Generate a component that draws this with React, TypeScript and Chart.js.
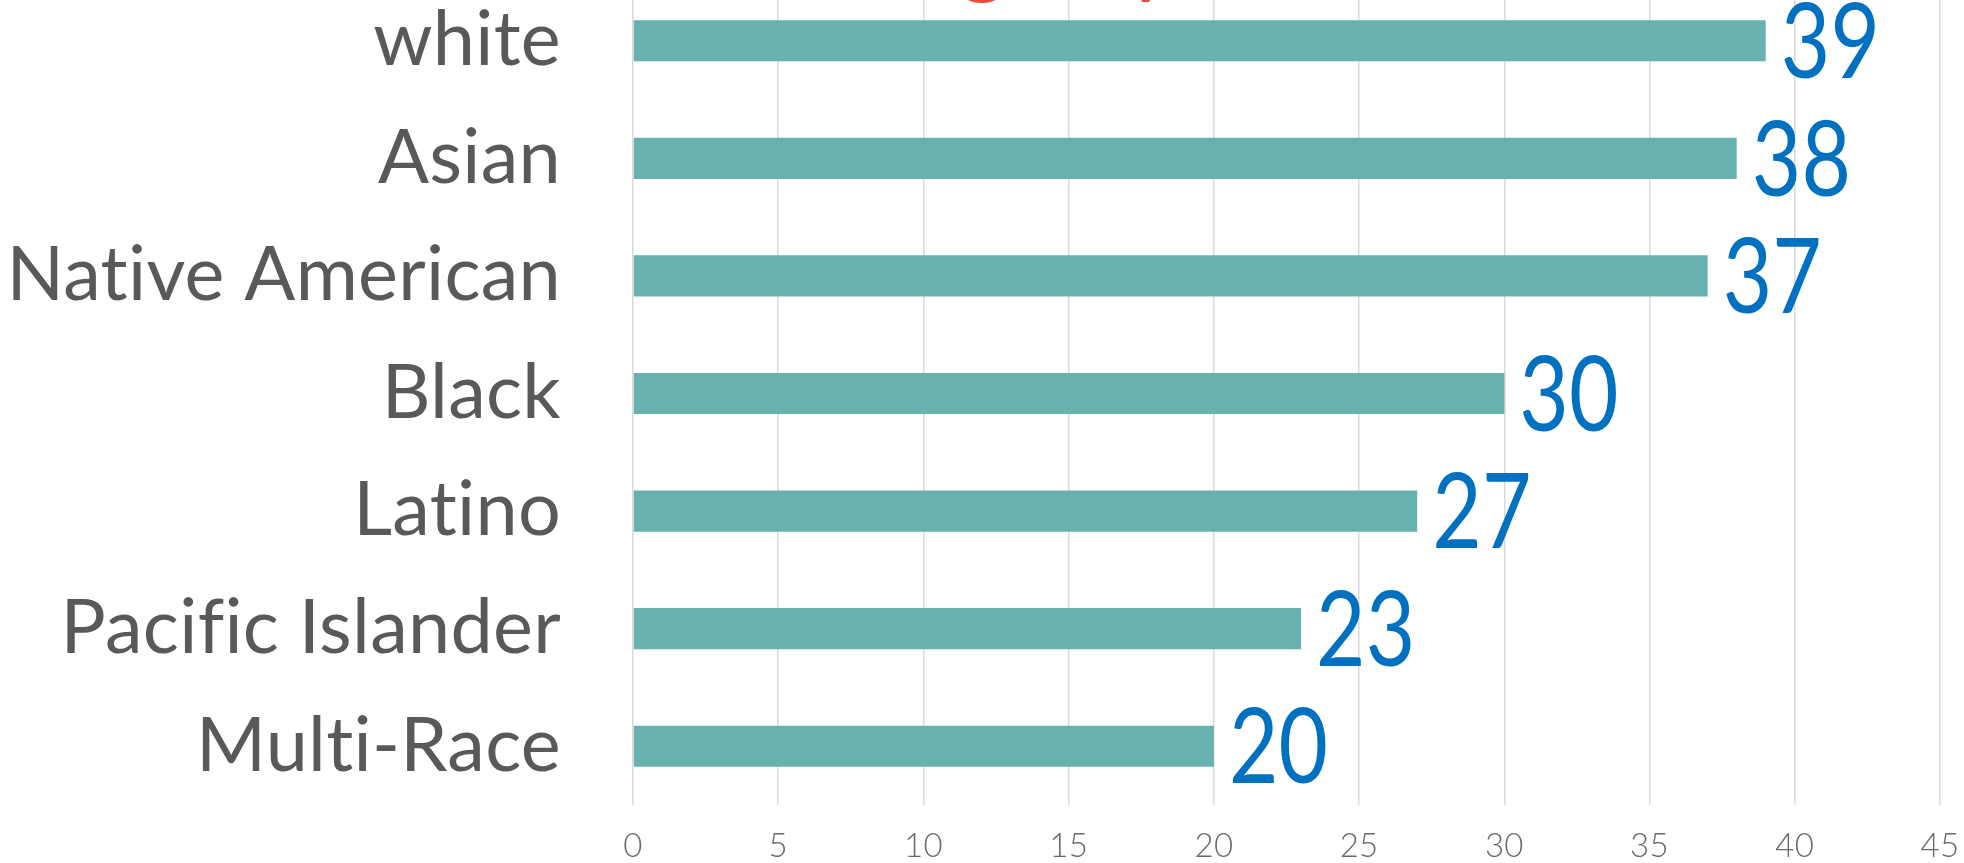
import React, { useEffect, useRef } from "react";
import { Chart, registerables } from "chart.js";

Chart.register(...registerables);

const categories = [
  "white",
  "Asian",
  "Native American",
  "Black",
  "Latino",
  "Pacific Islander",
  "Multi-Race",
];
const medianAges = [39, 38, 37, 30, 27, 23, 20];
const xMin = 0;
const xMax = 45;
const xStep = 5;
const titleText = "Median Age by Race";

const OFFSET = 150;
const W = 1964;
const H = 863 + OFFSET;

const FONT = "Lato, 'Open Sans', sans-serif";
const VALUE_SIZE = 104;

const noLigatures = {
  id: "noLigatures",
  beforeUpdate(chart: any) {
    chart.ctx.letterSpacing = "0.3px";
  },
  beforeLayout(chart: any) {
    chart.ctx.letterSpacing = "0.3px";
  },
  beforeDraw(chart: any) {
    chart.ctx.letterSpacing = "0.3px";
  },
};

const valueLabels = {
  id: "valueLabels",
  afterDatasetsDraw(chart: any) {
    const ctx = chart.ctx;
    const meta = chart.getDatasetMeta(0);
    meta.data.forEach((bar: any, i: number) => {
      ctx.save();
      ctx.font = `400 ${VALUE_SIZE}px ${FONT}`;
      ctx.fillStyle = "#0070C0";
      ctx.textAlign = "left";
      ctx.textBaseline = "alphabetic";
      ctx.translate(bar.x + 15, bar.y + VALUE_SIZE * 0.358);
      ctx.scale(0.82, 1);
      ctx.fillText(String(medianAges[i]), 0, 0);
      ctx.restore();
    });
  },
};

const cutTitle = {
  id: "cutTitle",
  afterDraw(chart: any) {
    const ctx = chart.ctx;
    ctx.save();
    ctx.font = `400 92px ${FONT}`;
    ctx.fillStyle = "#E84C3D";
    ctx.textAlign = "center";
    ctx.textBaseline = "alphabetic";
    ctx.fillText(titleText, chart.width / 2, chart.chartArea.top + 4);
    ctx.restore();
  },
};

export default function App() {
  const ref = useRef<HTMLCanvasElement | null>(null);

  useEffect(() => {
    document.body.style.overflow = "hidden";
    const canvas = ref.current;
    if (!canvas) return;
    const chart = new Chart(canvas, {
      type: "bar",
      data: {
        labels: categories,
        datasets: [
          {
            data: medianAges,
            backgroundColor: "#67B2AF",
            borderWidth: 0,
            barPercentage: 0.35,
            categoryPercentage: 1,
          },
        ],
      },
      options: {
        indexAxis: "y",
        responsive: false,
        animation: false,
        devicePixelRatio: 1,
        layout: { padding: { top: OFFSET - 18, right: 24, bottom: 0, left: 0 } },
        plugins: {
          legend: { display: false },
          title: { display: false },
          tooltip: { enabled: false },
        },
        scales: {
          x: {
            type: "linear",
            min: xMin,
            max: xMax,
            ticks: {
              stepSize: xStep,
              color: "#6A6A6A",
              padding: 22,
              font: { family: FONT, size: 33, weight: "300" },
            },
            grid: {
              color: "#D9D9D9",
              lineWidth: 1.5,
              drawTicks: false,
            },
            border: { display: false },
            afterFit(scale: any) {
              scale.height = 58;
              scale.paddingLeft = 0;
              scale.paddingRight = 0;
            },
          },
          y: {
            ticks: {
              color: "#595959",
              padding: 72,
              font: { family: FONT, size: 75.5, weight: "400" },
            },
            grid: { display: false, drawTicks: false },
            border: { display: false },
            afterFit(scale: any) {
              scale.width = 633;
              scale.paddingTop = 0;
              scale.paddingBottom = 0;
            },
          },
        },
      },
      plugins: [noLigatures, valueLabels, cutTitle],
    });
    return () => chart.destroy();
  }, []);

  return (
    <div style={{ position: "absolute", left: 0, top: -OFFSET, width: W, height: H }}>
      <canvas ref={ref} width={W} height={H} style={{ display: "block", width: W, height: H }} />
    </div>
  );
}
